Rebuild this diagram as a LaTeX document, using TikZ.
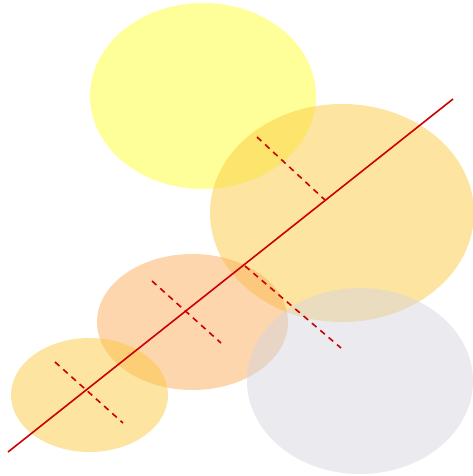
\documentclass[tikz,border=0pt]{standalone}
\begin{document}
\begin{tikzpicture}[x=1pt,y=-1pt,
  blob/.style={fill opacity=0.5,draw=none},
  mainline/.style={draw={rgb,255:red,204;green,0;blue,0},line width=1.6pt},
  perp/.style={draw={rgb,255:red,204;green,0;blue,0},line width=1.6pt,dash pattern=on 6pt off 5pt}]
\useasboundingbox (0,0) rectangle (473,476);
\definecolor{cyel}{RGB}{255,255,51}
\definecolor{cgold}{RGB}{252,201,65}
\definecolor{cpeach}{RGB}{251,173,93}
\definecolor{cgray}{RGB}{213,213,223}
\fill[blob,cyel] (203,96) ellipse [x radius=113, y radius=93];
\fill[blob,cgold] (342,213) ellipse [x radius=132, y radius=109];
\fill[blob,cpeach] (192.5,322) ellipse [x radius=95.5, y radius=68];
\fill[blob,cgray] (360,381) ellipse [x radius=113, y radius=93];
\fill[blob,cgold] (89.5,395) ellipse [x radius=78.5, y radius=57];
\coordinate (l0) at (8,452);
\coordinate (l1) at (453,99);
\draw[mainline] (l0) -- (l1);
\coordinate (a0) at (55,362); \coordinate (a1) at (123,423);
\coordinate (b0) at (152,281); \coordinate (b1) at (221,343);
\coordinate (c0) at (245,266); \coordinate (c1) at (341,348);
\coordinate (d0) at (257,137); \coordinate (d1) at (325,200);
\draw[perp] (a0) -- (a1);
\draw[perp] (b0) -- (b1);
\draw[perp] (c0) -- (c1);
\draw[perp] (d0) -- (d1);
\end{tikzpicture}
\end{document}
